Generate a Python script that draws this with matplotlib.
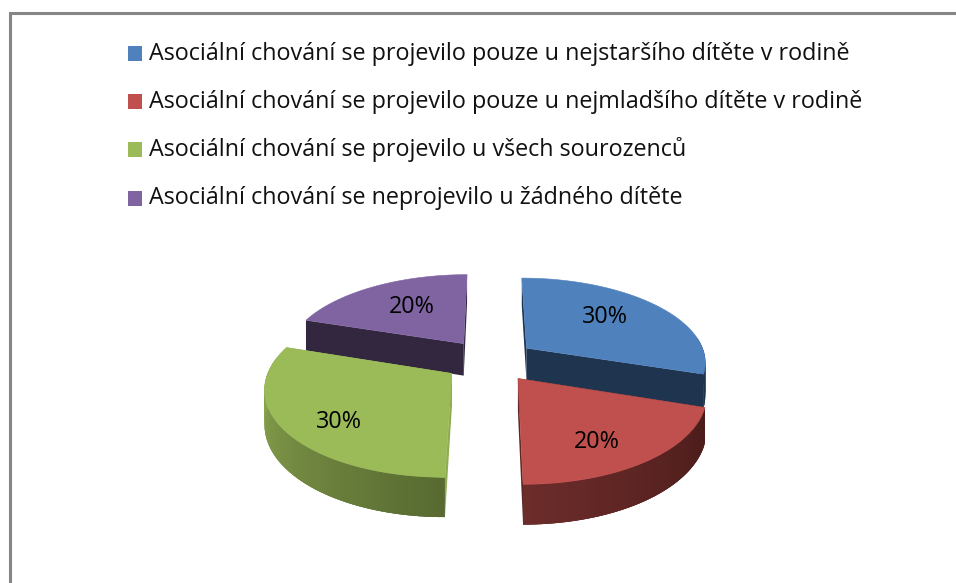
import numpy as np
import matplotlib
matplotlib.use("Agg")
import matplotlib.pyplot as plt
from matplotlib.patches import Polygon, Rectangle

labels = [
    "Asociální chování se projevilo pouze u nejstaršího dítěte v rodině",
    "Asociální chování se projevilo pouze u nejmladšího dítěte v rodině",
    "Asociální chování se projevilo u všech sourozenců",
    "Asociální chování se neprojevilo u žádného dítěte",
]
values = [30, 20, 30, 20]
colors = ["#4F81BD", "#C0504D", "#9BBB59", "#8064A2"]

# face colours: radial faces at the start / end of each slice
start_face = ["#1F344F", "#4A1C1A", "#8FAC52", "#33263F"]
end_face = ["#1F344F", "#5E2624", "#8FAC52", "#33263F"]
# outer rim colours at the start / end of each slice
rim_start = ["#1F344F", "#4A1C1A", "#586A31", "#33263F"]
rim_end = ["#1F344F", "#6C2C2A", "#95B256", "#33263F"]
# pixel nudges of the value labels
label_nudge = [(-3, -3), (3, 15), (-13, 15), (6, 0)]
# legend rows
legend_baselines = [60.5, 108, 156, 204.5]
legend_swatch_tops = [46, 94, 142, 191]

W, H = 956, 583
CX, CY, RX, RY = 490.0, 360.5, 180.0, 84.0
K, EXPLODE, THICK = 0.15, 0.256, 33.0
FONT = "Open Sans"
FS = 16.85

fig = plt.figure(figsize=(W / 100, H / 100), dpi=100, facecolor="white")
ax = fig.add_axes([0, 0, 1, 1])
ax.set_xlim(0, W)
ax.set_ylim(H, 0)
ax.axis("off")


def project(x, y):
    w = 1 + K * np.asarray(y)
    return CX + RX * np.asarray(x) / w, CY - RY * np.asarray(y) / w


def depth(y):
    return THICK / (1 + K * np.asarray(y))


def mix(c1, c2, t):
    a, b = matplotlib.colors.to_rgb(c1), matplotlib.colors.to_rgb(c2)
    return tuple((1 - t) * p + t * q for p, q in zip(a, b))


def quad(xa, ya, xb, yb, color, z):
    (sxa, sya), (sxb, syb) = project(xa, ya), project(xb, yb)
    da, db = depth(ya), depth(yb)
    pts = [(sxa, sya), (sxb, syb), (sxb, syb + db), (sxa, sya + da)]
    ax.add_patch(Polygon(pts, closed=True, fc=color, ec="none", zorder=z))


total = sum(values)
angle = 90.0
slices = []
for i, v in enumerate(values):
    sweep = 360.0 * v / total
    a0, a1 = angle, angle - sweep
    mid = np.radians((a0 + a1) / 2)
    ox, oy = EXPLODE * np.cos(mid), EXPLODE * np.sin(mid)
    th = np.radians(np.linspace(a0, a1, 80))
    wx, wy = ox + np.cos(th), oy + np.sin(th)
    slices.append((i, ox, oy, mid, wx, wy))
    angle = a1

for i, ox, oy, mid, wx, wy in sorted(slices, key=lambda s: -s[2]):
    z = 2 + (1 - oy) * 3
    for (ex, ey, col) in ((wx[0], wy[0], start_face[i]), (wx[-1], wy[-1], end_face[i])):
        quad(ox, oy, ex, ey, col, z)
    n = len(wx)
    for j in range(n - 1):
        t = j / (n - 2)
        k = min(j + 3, n - 1)  # overlap neighbours so no seams show
        if (wy[j] + wy[k]) / 2 - oy < 0.0 or abs(wx[j] - ox) > 0.99:
            quad(wx[j], wy[j], wx[k], wy[k], mix(rim_start[i], rim_end[i], t), z + 0.1 + j * 1e-4)
    px, py = project(np.r_[ox, wx], np.r_[oy, wy])
    ax.add_patch(Polygon(np.c_[px, py], closed=True, fc=colors[i], ec=colors[i], lw=0.4, zorder=z + 0.2))
    r = 0.62
    lx, ly = project(ox + r * np.cos(mid), oy + r * np.sin(mid))
    ax.text(lx + label_nudge[i][0], ly + label_nudge[i][1], f"{round(100 * values[i] / total)}%",
            ha="center", va="center", fontsize=FS, family=FONT, color="black", zorder=20)

ax.plot([10.5, 10.5, W + 5], [H + 5, 13, 13], color="#868686", lw=2.2,
        solid_joinstyle="miter", zorder=1, clip_on=False)

for label, color, base, top in zip(labels, colors, legend_baselines, legend_swatch_tops):
    ax.add_patch(Rectangle((128, top), 14.5, 14.5, fc=color, ec="none", zorder=5))
    ax.text(149, base, label, ha="left", va="baseline", fontsize=FS, family=FONT,
            color="#111111", zorder=5)

fig.savefig("out.png", dpi=100)
